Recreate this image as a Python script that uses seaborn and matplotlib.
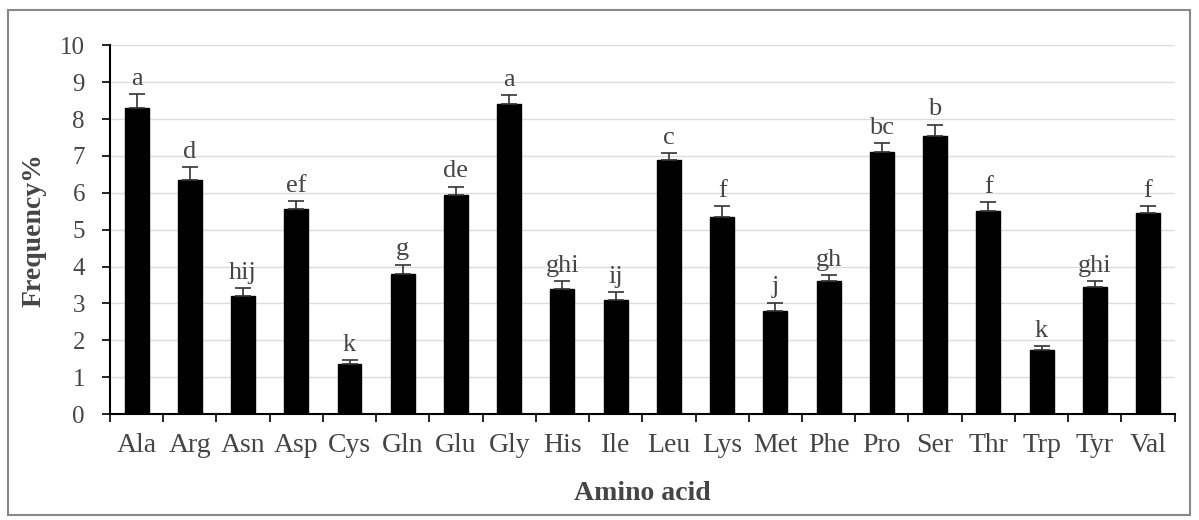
import matplotlib
matplotlib.use("Agg")
import matplotlib.pyplot as plt
import seaborn as sns
import pandas as pd
import numpy as np
from matplotlib.patches import Rectangle

amino_acids = ["Ala", "Arg", "Asn", "Asp", "Cys", "Gln", "Glu", "Gly", "His", "Ile",
               "Leu", "Lys", "Met", "Phe", "Pro", "Ser", "Thr", "Trp", "Tyr", "Val"]
frequency = [8.3, 6.35, 3.2, 5.55, 1.35, 3.8, 5.95, 8.4, 3.4, 3.1,
             6.9, 5.35, 2.8, 3.6, 7.1, 7.55, 5.5, 1.75, 3.45, 5.45]
errors = [0.37, 0.35, 0.22, 0.22, 0.12, 0.25, 0.22, 0.25, 0.2, 0.2,
          0.18, 0.28, 0.22, 0.17, 0.25, 0.3, 0.25, 0.1, 0.15, 0.2]
letters = ["a", "d", "hij", "ef", "k", "g", "de", "a", "ghi", "ij",
           "c", "f", "j", "gh", "bc", "b", "f", "k", "ghi", "f"]
y_ticks = list(range(0, 11))

sns.set_theme(style="white")
plt.rcParams['font.family'] = ['Liberation Serif', 'DejaVu Serif']

df = pd.DataFrame({"Amino acid": amino_acids, "Frequency": frequency})

TXT = "#454545"

fig = plt.figure(figsize=(11.99, 5.2), dpi=100)
ax = fig.add_axes([0.0917, 0.2038, 0.888, 0.709])

sns.barplot(data=df, x="Amino acid", y="Frequency", color="black",
            width=0.45, ax=ax, errorbar=None, zorder=3)
for p in ax.patches:
    p.set_facecolor("black")
    p.set_edgecolor("black")

x = np.arange(len(amino_acids))
ax.errorbar(x, frequency, yerr=[np.zeros(len(errors)), errors], fmt="none",
            ecolor="#333333", elinewidth=1.2, capsize=6, capthick=1.2, zorder=4)

for xi, v, e, t in zip(x, frequency, errors, letters):
    ax.text(xi, v + e + 0.25, t, ha="center", va="baseline", fontsize=19, color=TXT)

ax.set_ylim(0, 10)
ax.set_xlim(-0.5, len(amino_acids) - 0.5)
ax.set_yticks(y_ticks)
ax.yaxis.grid(True, color="#dcdcdc", linewidth=1.0, zorder=0)
ax.set_axisbelow(True)

for s in ["top", "right"]:
    ax.spines[s].set_visible(False)
for s in ["left", "bottom"]:
    ax.spines[s].set_color("black")
    ax.spines[s].set_linewidth(1.5)

ax.set_xticks(x)
ax.set_xticks(np.arange(-0.5, len(amino_acids), 1.0), minor=True)
ax.tick_params(axis="x", which="major", length=0, pad=14, labelsize=20, labelcolor=TXT)
ax.tick_params(axis="x", which="minor", length=6, width=1.2, color="black", direction="out", bottom=True)
ax.tick_params(axis="y", which="major", length=6, width=1.2, color="black", direction="out",
               left=True, labelsize=18, labelcolor=TXT, pad=12)

ax.set_xlabel("Amino acid", fontsize=20, fontweight="bold", color=TXT, labelpad=16)
ax.set_ylabel("Frequency%", fontsize=20, fontweight="bold", color=TXT, labelpad=10)

border = Rectangle((8 / 1199, 1 - 515 / 520), 1182 / 1199, 505 / 520,
                   transform=fig.transFigure, fill=False, edgecolor="#888888", linewidth=1.5)
fig.patches.append(border)

fig.savefig("out.png", dpi=100)
